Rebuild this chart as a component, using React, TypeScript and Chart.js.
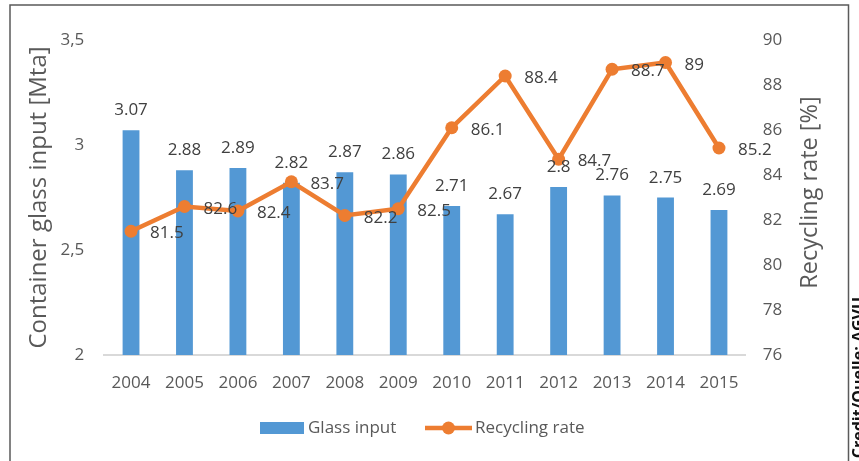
import React, { useEffect, useRef } from 'react';
import { Chart, registerables } from 'chart.js';

Chart.register(...registerables);

// ---- data ----
const years = ['2004', '2005', '2006', '2007', '2008', '2009', '2010', '2011', '2012', '2013', '2014', '2015'];
const glassInput = [3.07, 2.88, 2.89, 2.82, 2.87, 2.86, 2.71, 2.67, 2.8, 2.76, 2.75, 2.69];
const recyclingRate = [81.5, 82.6, 82.4, 83.7, 82.2, 82.5, 86.1, 88.4, 84.7, 88.7, 89, 85.2];
const glassTicks = [2, 2.5, 3, 3.5];
const rateTicks = [76, 78, 80, 82, 84, 86, 88, 90];
const seriesNames = ['Glass input', 'Recycling rate'];
const axisTitles = ['Container glass input [Mta]', 'Recycling rate [%]'];
const creditText = 'Credit/Quelle: AGVU';

const FONT = '"Open Sans", sans-serif';
const BLUE = '#5398D4';
const ORANGE = '#ED7D31';
const GRAY = '#595959';
const LABEL = '#404040';

const decorPlugin = {
  id: 'decor',
  afterDraw(chart: any) {
    const ctx = chart.ctx as CanvasRenderingContext2D;
    const area = chart.chartArea;
    ctx.save();

    // frame
    ctx.strokeStyle = '#5a5a5a';
    ctx.lineWidth = 1.5;
    ctx.beginPath();
    ctx.moveTo(10, 470);
    ctx.lineTo(10, 5);
    ctx.lineTo(848.5, 5);
    ctx.lineTo(848.5, 470);
    ctx.stroke();

    // data labels: glass input
    ctx.font = `17px ${FONT}`;
    ctx.fillStyle = LABEL;
    ctx.textAlign = 'center';
    ctx.textBaseline = 'alphabetic';
    chart.getDatasetMeta(0).data.forEach((el: any, i: number) => {
      ctx.fillText(String(glassInput[i]), el.x, el.y - 15);
    });
    // data labels: recycling rate
    ctx.textAlign = 'left';
    chart.getDatasetMeta(1).data.forEach((el: any, i: number) => {
      ctx.fillText(String(recyclingRate[i]), el.x + 19, el.y + 7);
    });

    // axis titles
    const midY = (area.top + area.bottom) / 2;
    ctx.font = `24px ${FONT}`;
    ctx.fillStyle = GRAY;
    ctx.textAlign = 'center';
    ctx.save();
    ctx.translate(46, midY);
    ctx.rotate(-Math.PI / 2);
    ctx.fillText(axisTitles[0], 0, 0);
    ctx.restore();
    ctx.save();
    ctx.translate(817, midY - 5);
    ctx.rotate(-Math.PI / 2);
    ctx.font = `23.5px ${FONT}`;
    ctx.fillText(axisTitles[1], 0, 0);
    ctx.restore();

    // legend
    ctx.font = `17px ${FONT}`;
    ctx.fillStyle = BLUE;
    ctx.fillRect(260, 422, 44, 12);
    ctx.fillStyle = GRAY;
    ctx.textAlign = 'left';
    ctx.fillText(seriesNames[0], 308, 433);
    ctx.strokeStyle = ORANGE;
    ctx.lineWidth = 4.5;
    ctx.beginPath();
    ctx.moveTo(425, 428);
    ctx.lineTo(472, 428);
    ctx.stroke();
    ctx.fillStyle = ORANGE;
    ctx.beginPath();
    ctx.arc(448.5, 428, 6.5, 0, Math.PI * 2);
    ctx.fill();
    ctx.fillStyle = GRAY;
    ctx.fillText(seriesNames[1], 475, 433);

    // credit
    ctx.save();
    ctx.translate(864, 297);
    ctx.rotate(-Math.PI / 2);
    ctx.font = `bold 16px ${FONT}`;
    ctx.fillStyle = '#111';
    ctx.textAlign = 'right';
    ctx.fillText(creditText, 0, 0);
    ctx.restore();

    ctx.restore();
  },
};

export default function App() {
  const ref = useRef<HTMLCanvasElement | null>(null);

  useEffect(() => {
    document.body.style.margin = '0';
    const canvas = ref.current!;
    const chart = new Chart(canvas, {
      type: 'bar',
      data: {
        labels: years,
        datasets: [
          {
            type: 'bar',
            label: seriesNames[0],
            data: glassInput,
            backgroundColor: BLUE,
            yAxisID: 'y',
            categoryPercentage: 1,
            barPercentage: 0.315,
            order: 2,
          },
          {
            type: 'line',
            label: seriesNames[1],
            data: recyclingRate,
            borderColor: ORANGE,
            backgroundColor: ORANGE,
            borderWidth: 4.5,
            pointRadius: 6.5,
            pointBorderWidth: 0,
            pointBackgroundColor: ORANGE,
            yAxisID: 'y1',
            tension: 0,
            order: 1,
          } as any,
        ],
      },
      options: {
        responsive: false,
        animation: false,
        devicePixelRatio: 1,
        layout: { padding: { top: 40, left: 0, right: 0, bottom: 0 } },
        plugins: { legend: { display: false }, tooltip: { enabled: false } },
        scales: {
          x: {
            grid: { display: false, drawTicks: false },
            border: { display: true, color: '#D9D9D9', width: 2 },
            ticks: { color: GRAY, font: { family: FONT, size: 17 }, padding: 18 },
            afterFit: (s: any) => { s.height = 106; },
          },
          y: {
            position: 'left',
            min: glassTicks[0],
            max: glassTicks[glassTicks.length - 1],
            grid: { display: false, drawTicks: false },
            border: { display: false },
            ticks: {
              color: GRAY,
              font: { family: FONT, size: 17 },
              padding: 20,
              callback: (v: any) => String(v).replace('.', ','),
            },
            afterBuildTicks: (s: any) => { s.ticks = glassTicks.map((v) => ({ value: v })); },
            afterFit: (s: any) => { s.width = 104.3; },
          },
          y1: {
            position: 'right',
            min: rateTicks[0],
            max: rateTicks[rateTicks.length - 1],
            grid: { display: false, drawTicks: false },
            border: { display: false },
            ticks: { color: GRAY, font: { family: FONT, size: 17 }, padding: 17 },
            afterBuildTicks: (s: any) => { s.ticks = rateTicks.map((v) => ({ value: v })); },
            afterFit: (s: any) => { s.width = 113.3; },
          },
        },
      } as any,
      plugins: [decorPlugin],
    });
    return () => chart.destroy();
  }, []);

  return (
    <div style={{ position: 'absolute', left: 0, top: 0, width: 859, height: 461, background: '#fff' }}>
      <canvas ref={ref} width={859} height={461} style={{ display: 'block', width: 859, height: 461 }} />
    </div>
  );
}
